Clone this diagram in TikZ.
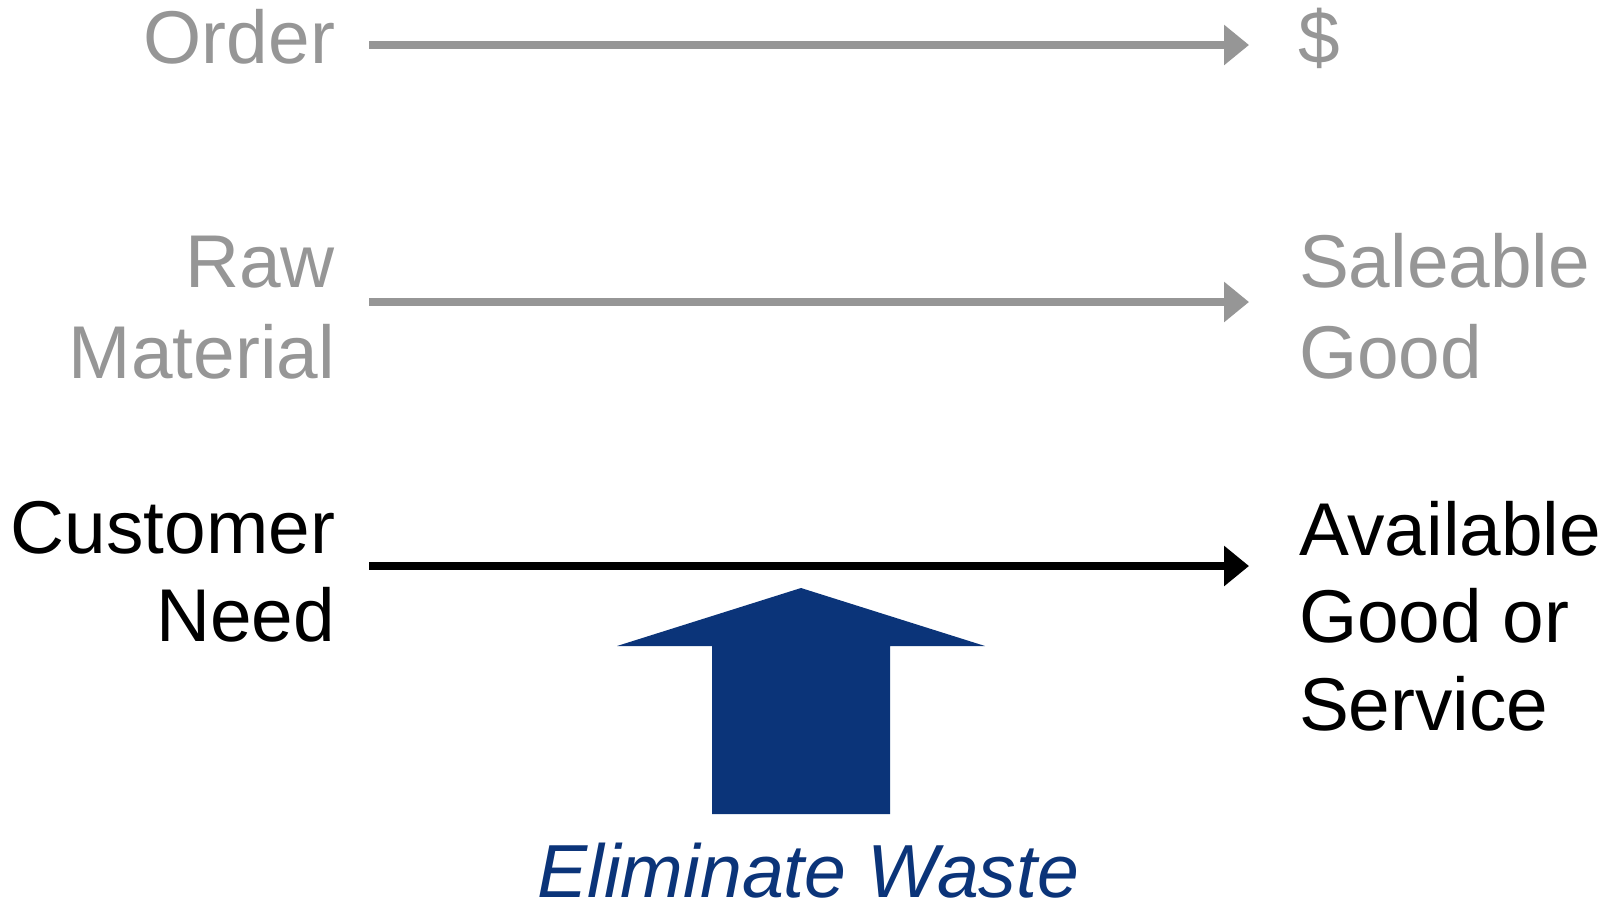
\documentclass[tikz,border=0pt]{standalone}
\usepackage{fontspec}
\setmainfont{Liberation Sans}
\usetikzlibrary{arrows.meta}
\definecolor{flowgray}{RGB}{150,150,150}
\definecolor{wasteblue}{RGB}{11,52,121}
\tikzset{
  lbl/.style={inner sep=0pt, outer sep=0pt, font={\fontsize{37.4pt}{43.75pt}\selectfont}},
  lblwide/.style={inner sep=0pt, outer sep=0pt, font={\fontsize{37.4pt}{45.5pt}\selectfont}},
  leftlbl/.style={anchor=base east, align=right},
  rightlbl/.style={anchor=base west, align=left},
  flowarrow/.style={line width=4pt, -{Triangle[length=12.5pt,width=19.5pt]}},
}
\begin{document}
\begin{tikzpicture}[x=0.5pt,y=-0.5pt]
\useasboundingbox (0,0) rectangle (1617,901);
% left labels (base anchor = baseline of last line)
\node[lbl, leftlbl, text=flowgray] (order) at (335,63) {Order};
\node[lblwide, leftlbl, text=flowgray] (raw) at (335,378) {Raw\\Material};
\node[lbl, leftlbl, text=black] (need) at (335,641) {Customer\\Need};
% right labels
\node[lbl, rightlbl, text=flowgray] (dollar) at (1298,63) {\$};
\node[lblwide, rightlbl, text=flowgray] (good) at (1299,378) {Saleable\\Good};
\node[lbl, rightlbl, text=black] (avail) at (1299,730) {Available\\Good or\\Service};
% connector endpoints
\coordinate (s1) at (369,45);  \coordinate (e1) at (1249,45);
\coordinate (s2) at (369,302); \coordinate (e2) at (1249,302);
\coordinate (s3) at (369,566); \coordinate (e3) at (1249,566);
\draw[flowarrow, draw=flowgray, fill=flowgray] (s1) -- (e1);
\draw[flowarrow, draw=flowgray, fill=flowgray] (s2) -- (e2);
\draw[flowarrow, draw=black, fill=black] (s3) -- (e3);
% big block arrow
\fill[wasteblue] (801,588) -- (985,646) -- (890,646) -- (890,814)
  -- (712,814) -- (712,646) -- (617,646) -- cycle;
\node[inner sep=0pt, anchor=base west, text=wasteblue,
  font={\fontsize{37.6pt}{44pt}\selectfont\itshape}] (waste) at (537,897) {Eliminate Waste};
\end{tikzpicture}
\end{document}
